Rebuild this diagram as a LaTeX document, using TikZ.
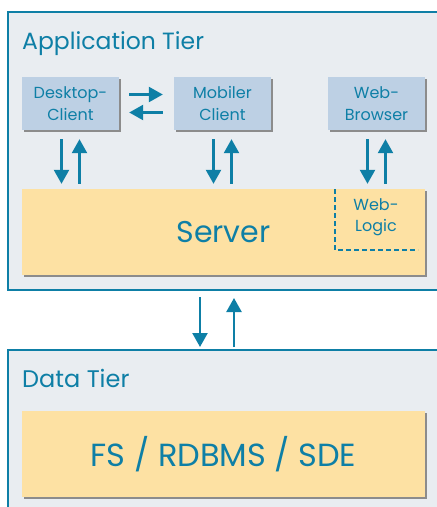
\documentclass[tikz,border=0pt]{standalone}
\usepackage{fontspec}
\setmainfont{Poppins}
\usetikzlibrary{shadows,arrows.meta}

\definecolor{tierblue}{HTML}{0E7FA6}
\definecolor{tierbg}{HTML}{E9EDF1}
\definecolor{clientfill}{HTML}{BDD0E4}
\definecolor{serverfill}{HTML}{FDE1A3}

\tikzset{
  tierframe/.style={draw=tierblue, line width=2pt, fill=tierbg},
  clientbox/.style={fill=clientfill, minimum width=97pt, minimum height=53pt, align=center,
    text=tierblue, font=\fontsize{16}{22}\selectfont,
    drop shadow={shadow xshift=2pt, shadow yshift=-2pt, fill=black!45, opacity=1}},
  serverbox/.style={fill=serverfill, minimum width=403pt, minimum height=86pt, text=tierblue,
    drop shadow={shadow xshift=2pt, shadow yshift=-2pt, fill=black!45, opacity=1}},
  flow/.style={draw=tierblue, line width=2.4pt, -{Triangle[length=14pt, width=15pt]}},
}

\begin{document}
\begin{tikzpicture}[x=1pt, y=-1pt]
\useasboundingbox (0,0) rectangle (437,507);
\clip (0,0) rectangle (437,507);

% tiers
\draw[tierframe] (8,12) rectangle (450,290);
\draw[tierframe] (8,350) rectangle (450,520);
\node[anchor=base west, text=tierblue, font=\fontsize{23.5}{28}\selectfont, inner sep=0pt] (apptitle) at (22,49) {Application Tier};
\node[anchor=base west, text=tierblue, font=\fontsize{24}{28}\selectfont, inner sep=0pt] (datatitle) at (22,387) {Data Tier};

% clients
\node[clientbox] (desktop) at (70.5,103.5) {Desktop-\\Client};
\node[clientbox] (mobil) at (222.5,103.5) {Mobiler\\Client};
\node[clientbox] (browser) at (376.5,103.5) {Web-\\Browser};

% server
\node[serverbox, font=\fontsize{30}{34}\selectfont] (server) at (223.5,232) {Server};
\draw[tierblue, line width=1.2pt, dash pattern=on 5pt off 3pt] (335,189) -- (335,250) -- (418,250);
\node[text=tierblue, align=center, font=\fontsize{16}{21}\selectfont] (weblogic) at (376,217) {Web-\\Logic};

% data
\node[serverbox, font=\fontsize{32}{36}\selectfont] (store) at (223.5,454) {FS / RDBMS / SDE};

% arrows
\draw[flow, shorten <=10pt, shorten >=11pt] ([yshift=9pt]desktop.east) -- ([yshift=9pt]mobil.west);
\draw[flow, shorten <=11pt, shorten >=10pt] ([yshift=-9pt]mobil.west) -- ([yshift=-9pt]desktop.east);

\foreach \c in {desktop, mobil, browser} {
  \draw[flow, shorten <=9pt, shorten >=5pt] ([xshift=-9pt]\c.south) -- ([xshift=-9pt]\c.south |- server.north);
  \draw[flow, shorten <=5pt, shorten >=9pt] ([xshift=9pt]\c.south |- server.north) -- ([xshift=9pt]\c.south);
}

\coordinate (appbottom) at (217,290);
\coordinate (datatop) at (217,350);
\draw[flow, shorten <=7pt, shorten >=3pt] ([xshift=-17pt]appbottom) -- ([xshift=-17pt]datatop);
\draw[flow, shorten <=3pt, shorten >=8pt] ([xshift=17pt]datatop) -- ([xshift=17pt]appbottom);
\end{tikzpicture}
\end{document}
